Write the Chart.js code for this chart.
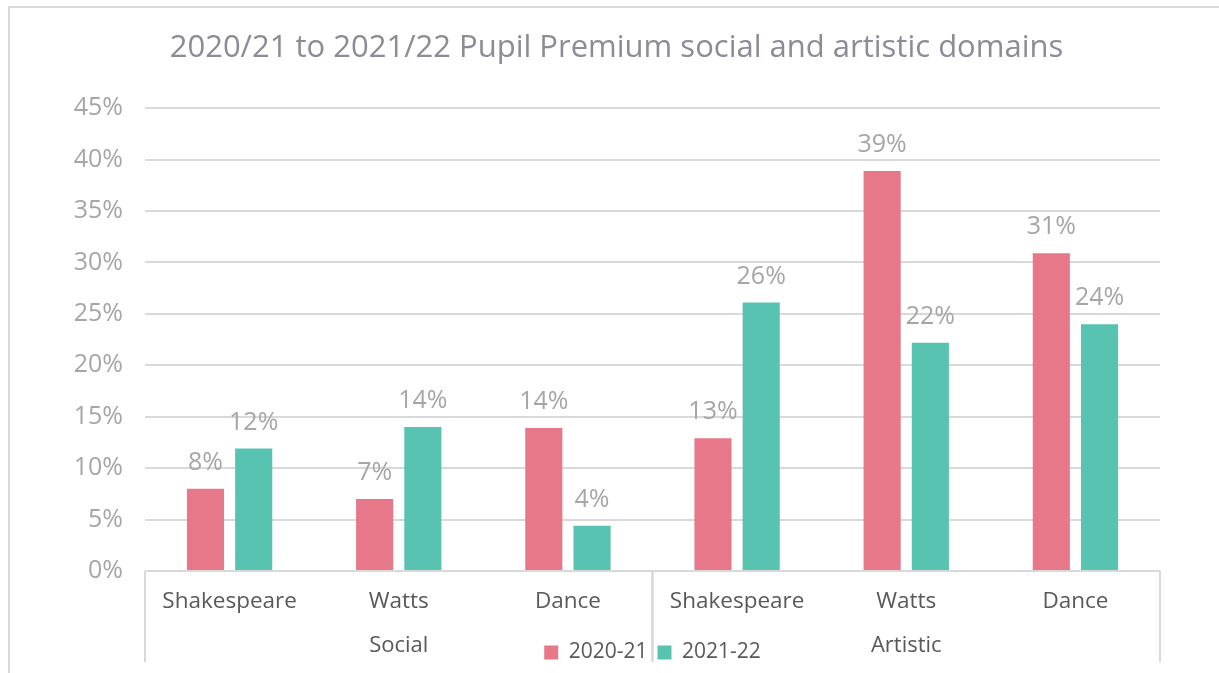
<!DOCTYPE html>
<html>
<head>
<meta charset="utf-8">
<script src="https://cdn.jsdelivr.net/npm/chart.js@4/dist/chart.umd.min.js"></script>
<style>
  body { margin: 0; background: #fff; }
  #wrap { position: relative; width: 1219px; height: 673px; }
</style>
</head>
<body>
<div id="wrap"><canvas id="myChart" width="1219" height="673"></canvas></div>
<script>
const categories = ['Shakespeare', 'Watts', 'Dance', 'Shakespeare', 'Watts', 'Dance']
const groups = ['Social', 'Artistic']
const groupSizes = [3, 3]
const series2021 = [8, 7, 13.9, 12.9, 38.9, 30.9]
const series2122 = [11.9, 14, 4.4, 26.1, 22.2, 24]
const yTicks = [0, 5, 10, 15, 20, 25, 30, 35, 40, 45]

const grey = '#d9d9d9'
const font = '"Open Sans", Lato, sans-serif'

// frame round the chart, values above bars, group labels under the axis
const extras = {
    id: 'extras',
    beforeDraw(chart) {
        const ctx = chart.ctx
        ctx.save()
        ctx.strokeStyle = grey
        ctx.lineWidth = 2
        ctx.beginPath()
        ctx.moveTo(9, 673)
        ctx.lineTo(9, 7)
        ctx.lineTo(1219, 7)
        ctx.stroke()
        ctx.restore()
    },
    afterDatasetsDraw(chart) {
        const ctx = chart.ctx
        ctx.save()
        ctx.font = '25px ' + font
        ctx.fillStyle = '#a6a6a6'
        ctx.textAlign = 'center'
        ctx.textBaseline = 'alphabetic'
        chart.data.datasets.forEach((ds, i) => {
            chart.getDatasetMeta(i).data.forEach((bar, j) => {
                ctx.fillText(Math.round(ds.data[j]) + '%', bar.x, bar.y - 19)
            })
        })
        ctx.restore()
    },
    afterDraw(chart) {
        const ctx = chart.ctx
        const x = chart.scales.x
        const y0 = x.top
        const half = (x.getPixelForValue(1) - x.getPixelForValue(0)) / 2
        ctx.save()
        ctx.strokeStyle = grey
        ctx.lineWidth = 2
        ctx.font = '22px ' + font
        ctx.fillStyle = '#595959'
        ctx.textAlign = 'center'
        ctx.textBaseline = 'middle'
        let start = 0
        groups.forEach((g, i) => {
            const end = start + groupSizes[i] - 1
            const left = x.getPixelForValue(start) - half
            const right = x.getPixelForValue(end) + half
            ctx.beginPath()
            ctx.moveTo(left, y0)
            ctx.lineTo(left, 662)
            ctx.moveTo(right, y0)
            ctx.lineTo(right, 662)
            ctx.stroke()
            ctx.fillText(g, (left + right) / 2, 646)
            start = end + 1
        })
        ctx.restore()
    }
}

new Chart(document.getElementById('myChart'), {
    type: 'bar',
    data: {
        labels: categories,
        datasets: [{
            label: '2020-21',
            data: series2021,
            backgroundColor: '#e7788a'
        }, {
            label: '2021-22',
            data: series2122,
            backgroundColor: '#58c3b0'
        }]
    },
    options: {
        responsive: false,
        animation: false,
        categoryPercentage: 0.57,
        barPercentage: 0.77,
        layout: { padding: { top: 20, right: 0, bottom: 0, left: 14 } },
        plugins: {
            title: {
                display: true,
                text: '2020/21 to 2021/22 Pupil Premium social and artistic domains',
                color: '#8c8b97',
                font: { family: font, size: 31, weight: 'normal' },
                padding: { top: 10, bottom: 41 }
            },
            legend: {
                position: 'bottom',
                fullSize: false,
                labels: {
                    color: '#595959',
                    font: { family: font, size: 21 },
                    boxWidth: 14,
                    boxHeight: 14,
                    padding: 10
                }
            },
            tooltip: { enabled: false }
        },
        scales: {
            x: {
                grid: { display: false },
                border: { display: false },
                ticks: {
                    color: '#595959',
                    font: { family: font, size: 22.5 },
                    padding: 9,
                    maxRotation: 0
                },
                afterFit(s) { s.height = 61 }
            },
            y: {
                min: 0,
                max: 45,
                afterBuildTicks(s) { s.ticks = yTicks.map(v => ({ value: v })) },
                grid: { color: grey, lineWidth: 2, drawTicks: false },
                border: { display: false },
                ticks: {
                    color: '#a6a6a6',
                    font: { family: font, size: 25 },
                    padding: 22,
                    callback: v => v + '%'
                },
                afterFit(s) { s.width = 131 }
            },
            yr: {
                position: 'right',
                grid: { display: false },
                border: { display: false },
                ticks: { display: false },
                afterFit(s) { s.width = 59 }
            }
        }
    },
    plugins: [extras]
})
</script>
</body>
</html>
